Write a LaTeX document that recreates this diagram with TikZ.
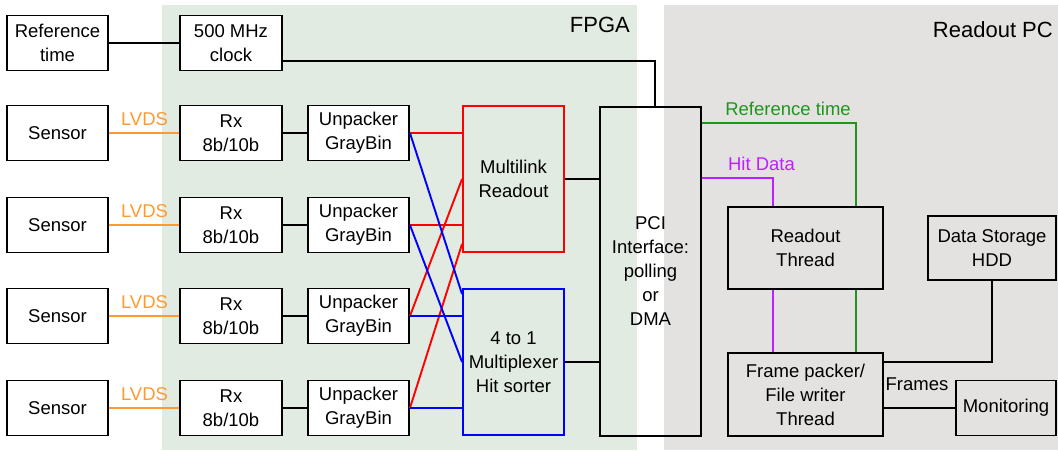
\documentclass[tikz,border=0pt]{standalone}
\usepackage{fontspec}
\setmainfont{Liberation Sans}
\usetikzlibrary{calc}
\definecolor{fpgabg}{HTML}{E1EBE1}
\definecolor{pcbg}{HTML}{E3E2E0}
\definecolor{lvds}{HTML}{FF9A2E}
\definecolor{reftc}{HTML}{1F951F}
\definecolor{hitc}{HTML}{BF1FFF}
\newcommand\boxfont{\fontsize{18.5}{24}\selectfont}
\newcommand\regfont{\fontsize{22}{26}\selectfont}
\begin{document}
\begin{tikzpicture}[x=1pt,y=-1pt,
  box/.style={draw=black, line width=1.9pt, fill=white, inner sep=0pt, align=center, font=\boxfont},
  obox/.style={draw=black, line width=1.9pt, inner sep=0pt, align=center, font=\boxfont},
  wire/.style={line width=1.9pt},
  lvdsw/.style={line width=1.9pt, draw=lvds},
  redw/.style={line width=1.9pt, draw=red},
  bluew/.style={line width=1.9pt, draw=blue},
  lbl/.style={inner sep=0pt, anchor=base, font=\boxfont}]
\useasboundingbox (0,0) rectangle (1058,450);
\fill[fpgabg] (162,5) rectangle (637,450);
\fill[pcbg] (664,5) rectangle (1058,450);
\node[lbl, anchor=base east, font=\regfont] (fpgal) at (630,32) {FPGA};
\node[lbl, anchor=base east, font=\regfont] (pcl) at (1053,37) {Readout PC};

\node[box, minimum width=101, minimum height=55] (reft) at (57.5,43) {Reference\\time};
\node[box, minimum width=102, minimum height=55] (clk) at (231,43) {500 MHz\\clock};

\foreach \i/\y in {1/133,2/225,3/316,4/408}{
  \node[box, minimum width=101, minimum height=55] (sen\i) at (57.5,\y) {Sensor};
  \node[box, minimum width=102, minimum height=55] (rx\i) at (231,\y) {Rx\\8b/10b};
  \node[box, minimum width=101, minimum height=55] (unp\i) at (358.5,\y) {Unpacker\\GrayBin};
  \draw[lvdsw] (sen\i.east) -- (rx\i.west);
  \node[lbl, text=lvds] (lv\i) at (144.5,\y-8) {LVDS};
  \draw[wire] (rx\i.east) -- (unp\i.west);
}

\node[obox, draw=red, minimum width=101, minimum height=146] (mlr) at (513.5,179) {Multilink\\Readout};
\node[obox, draw=blue, minimum width=101, minimum height=146] (mux) at (513.5,362) {4 to 1\\Multiplexer\\Hit sorter};
\node[obox, minimum width=101, minimum height=329] (pci) at (650.5,271.5) {PCI\\Interface:\\polling\\or\\DMA};

\node[obox, minimum width=155, minimum height=82] (rt) at (805.5,248) {Readout\\Thread};
\node[obox, minimum width=155, minimum height=83] (fp) at (805.5,394.5) {Frame packer/\\File writer\\Thread};
\node[obox, minimum width=128, minimum height=64] (hdd) at (992,248) {Data Storage\\HDD};
\node[obox, minimum width=100, minimum height=55] (mon) at (1006,408) {Monitoring};

% red links
\draw[redw] (unp1.east) -- (mlr.west |- unp1.east);
\draw[redw] (unp2.east) -- (mlr.west |- unp2.east);
\draw[redw] (unp3.east) -- (mlr.west);
\draw[redw] (unp4.east) -- ([yshift=9pt]mlr.south west);
% blue links
\draw[bluew] (unp1.east) -- ([yshift=-6pt]mux.north west);
\draw[bluew] (unp2.east) -- (mux.west);
\draw[bluew] (unp3.east) -- (mux.west |- unp3.east);
\draw[bluew] (unp4.east) -- (mux.west |- unp4.east);

% black links
\draw[wire] (reft.east) -- (clk.west);
\draw[wire] ([yshift=-18pt]clk.east) -| ([xshift=4.5pt]pci.north);
\draw[wire] (mlr.east) -- (pci.west |- mlr.east);
\draw[wire] (mux.east) -- (pci.west |- mux.east);

% PC side
\draw[line width=1.9pt, draw=reftc] ([yshift=-17pt]pci.north east) -| ([xshift=50.5pt]rt.north);
\draw[line width=1.9pt, draw=reftc] ([xshift=50.5pt]rt.south) -- ([xshift=50.5pt]fp.north);
\node[lbl, text=reftc] (rtl) at (788,115) {Reference time};
\draw[line width=1.9pt, draw=hitc] ([yshift=-72pt]pci.north east) -| ([xshift=-32.5pt]rt.north);
\draw[line width=1.9pt, draw=hitc] ([xshift=-32.5pt]rt.south) -- ([xshift=-32.5pt]fp.north);
\node[lbl, text=hitc] (hdl) at (761.5,170) {Hit Data};

\draw[wire] ([yshift=32.5pt]fp.east) -| (hdd.south);
\draw[wire] (fp.east |- mon.west) -- (mon.west);
\node[lbl] (frl) at (917,390) {Frames};
\end{tikzpicture}
\end{document}
